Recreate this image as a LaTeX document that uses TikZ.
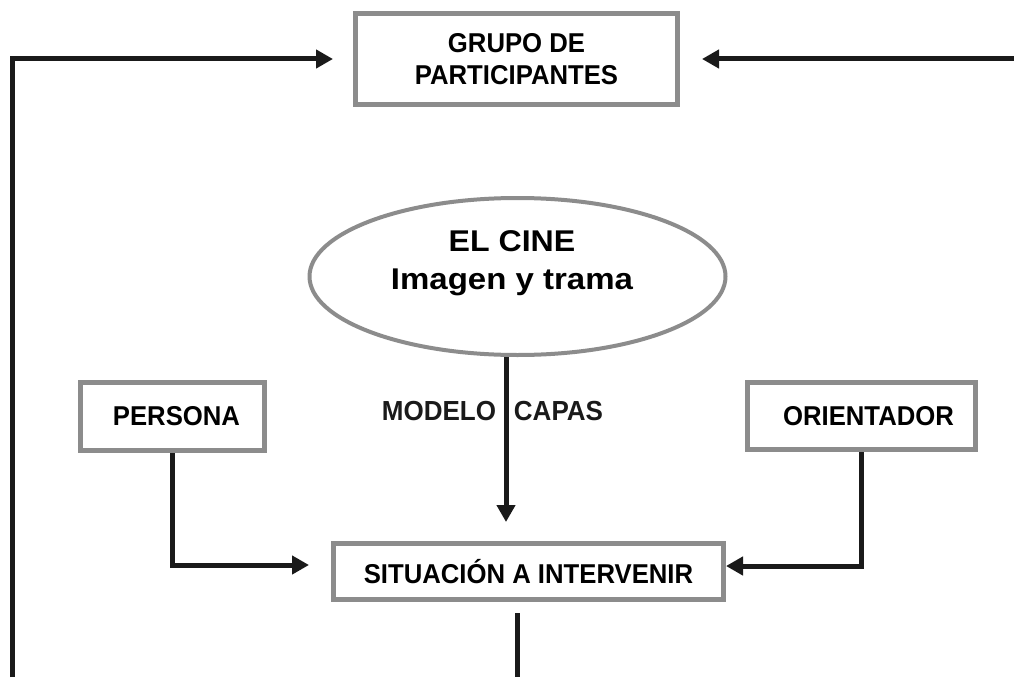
\documentclass[tikz,border=0pt]{standalone}
\usepackage{fontspec}
\usepackage{graphicx}
\setmainfont{Liberation Sans}
\usetikzlibrary{arrows.meta,shapes.geometric,backgrounds}
\definecolor{bordergray}{HTML}{8C8C8C}
\definecolor{linek}{HTML}{1A1A1A}
\newcommand{\vtall}[1]{\scalebox{1}[1.06]{#1}}
\begin{document}
\begin{tikzpicture}[x=1pt,y=-1pt,
  box/.style={draw=bordergray,line width=5pt,fill=white,inner sep=0pt,
    font=\fontsize{25.7}{32}\selectfont\bfseries,align=center},
  conn/.style={draw=linek,line width=5pt},
  arr/.style={conn,-{Triangle[length=17pt,width=18pt]}},
  lbl/.style={font=\fontsize{26}{30}\selectfont\bfseries,text=linek}]
\useasboundingbox[fill=white] (0,0) rectangle (1014,677);

% nodes
\node[box,minimum width=322pt,minimum height=91pt] (grupo) at (516.5,59) {\vtall{GRUPO DE}\\\vtall{PARTICIPANTES}};
\node[ellipse,draw=bordergray,line width=4pt,fill=white,minimum width=416pt,minimum height=157pt,inner sep=0pt] (el) at (517.5,276.5) {};
\node[font=\fontsize{30}{38}\selectfont\bfseries,align=center,inner sep=0pt] (elt) at (512,263.4)
  {\scalebox{1.07}[1]{EL CINE}\\\scalebox{1.1}[1]{Imagen y trama}};
\node[box,minimum width=184pt,minimum height=68pt] (persona) at (172.5,416.5) {\hspace*{8pt}\vtall{PERSONA}};
\node[box,minimum width=228pt,minimum height=67pt] (orient) at (861.5,416) {\hspace*{14pt}\vtall{ORIENTADOR}};
\node[box,minimum width=390pt,minimum height=56pt] (situ) at (528.5,571.5) {\vtall{SITUACIÓN A INTERVENIR}};
\node[lbl,anchor=base] (modelo) at (439,420) {\vtall{MODELO}};
\node[lbl,anchor=base] (capas) at (558.5,420) {\vtall{CAPAS}};

\coordinate (elL) at (318,243);
\coordinate (elR) at (717,243);
\coordinate (bl) at (12,677);
\coordinate (tr) at (1014,59);
\coordinate (bm) at (517,677);

\begin{scope}[on background layer]
\draw[arr,shorten >=23pt] (elL) -| (persona.north);
\draw[arr,shorten >=23pt] (elR) -| (orient.north);
\end{scope}

\draw[arr,shorten >=19pt] ([xshift=-11.5pt]el.south) -- ([xshift=-22.5pt]situ.north);
\draw[arr,shorten >=22pt] (persona.south) |- ([yshift=6.5pt]situ.west);
\draw[arr] (orient.south) |- ([yshift=5.5pt]situ.east);
\draw[arr,shorten >=20pt] (bl) |- (grupo.west);
\draw[arr,shorten >=22pt] (tr) -- (grupo.east);
\draw[conn,shorten <=11pt] ([xshift=-11.5pt]situ.south) -- (bm);
\end{tikzpicture}
\end{document}
